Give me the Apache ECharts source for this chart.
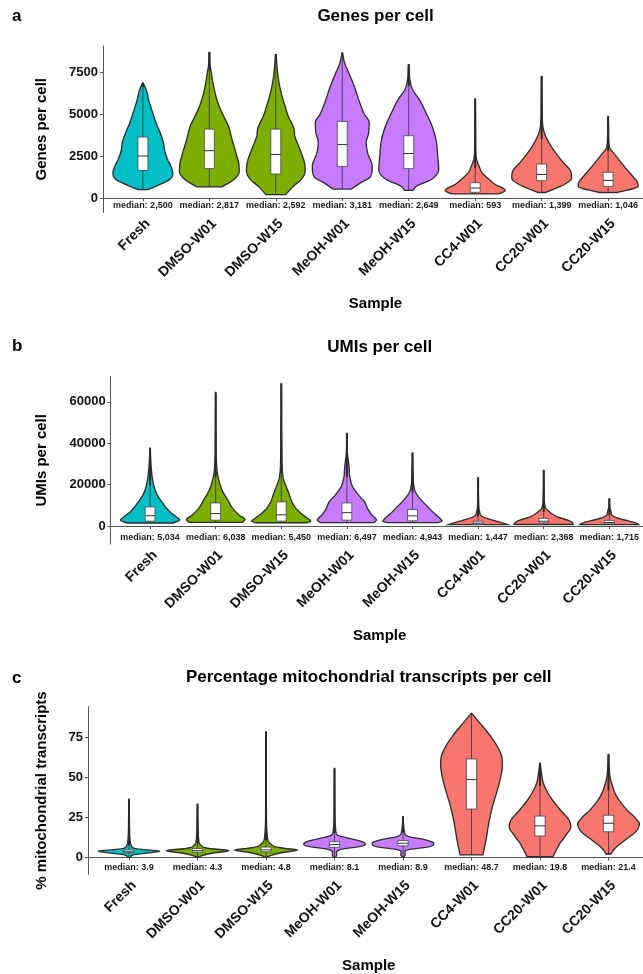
<!DOCTYPE html>
<html><head><meta charset="utf-8">
<script src="https://cdn.jsdelivr.net/npm/echarts@6/dist/echarts.min.js"></script>
<style>html,body{margin:0;padding:0;background:#fff}#c{width:643px;height:974px}</style>
</head><body><div id="c"></div><script>
// ---------------- data ----------------
const samples = ['Fresh','DMSO-W01','DMSO-W15','MeOH-W01','MeOH-W15','CC4-W01','CC20-W01','CC20-W15'];
const sampleGroups = ['Fresh','DMSO','DMSO','MeOH','MeOH','CC','CC','CC'];
const groupColors = {Fresh:'#00BFC4', DMSO:'#7CAE00', MeOH:'#C77CFF', CC:'#F8766D'};

// Panel a: genes per cell
const genesTicks = [0, 2500, 5000, 7500];
const genesMedian = [2500, 2817, 2592, 3181, 2649, 593, 1399, 1046];
const genesQ1 = [1640, 1750, 1430, 1880, 1750, 340, 1030, 690];
const genesQ3 = [3630, 4100, 4100, 4560, 3710, 910, 2020, 1530];
// violin outlines: [value, relative half width]
const genesViolin = [
  [[500,0.17],[790,0.55],[1090,0.89],[1490,1.0],[1880,0.94],[2280,0.83],[2880,0.72],[3270,0.69],[3870,0.58],[4460,0.44],[5060,0.33],[5850,0.19],[6450,0.11],[6850,0.01]],
  [[660,0.42],[1090,0.81],[1590,1.0],[2080,0.98],[2680,0.89],[3470,0.76],[4270,0.64],[4860,0.48],[5460,0.33],[6050,0.22],[6850,0.12],[7440,0.07],[7840,0.03],[8670,0.01]],
  [[200,0.33],[690,0.58],[1090,0.84],[1590,0.98],[2080,0.96],[2880,0.81],[3670,0.64],[4170,0.6],[4860,0.42],[5460,0.31],[6250,0.18],[7040,0.09],[7840,0.04],[8530,0.01]],
  [[530,0.3],[890,0.6],[1290,0.95],[1880,1.0],[2680,0.85],[3280,0.8],[3870,0.88],[4480,0.9],[5060,0.72],[5850,0.55],[6650,0.4],[7440,0.22],[8030,0.08],[8630,0.01]],
  [[450,0.14],[690,0.25],[1090,0.74],[1690,1.0],[2480,0.97],[3470,0.91],[4270,0.78],[5060,0.58],[5850,0.36],[6450,0.13],[7040,0.04],[7940,0.01]],
  [[250,0.8],[450,1.0],[600,0.91],[790,0.69],[1090,0.47],[1490,0.24],[1880,0.13],[2480,0.03],[3500,0.015],[5900,0.005]],
  [[330,0.13],[490,0.36],[790,0.74],[1190,1.0],[1590,0.97],[2080,0.74],[2680,0.47],[3470,0.19],[4270,0.04],[5500,0.015],[7240,0.005]],
  [[330,0.3],[450,0.6],[690,1.0],[890,0.99],[1290,0.82],[1880,0.54],[2480,0.27],[3080,0.04],[4000,0.015],[4860,0.005]]
];

// Panel b: UMIs per cell
const umiTicks = [0, 20000, 40000, 60000];
const umiMedian = [5034, 6038, 5450, 6497, 4943, 1447, 2368, 1715];
const umiQ1 = [2400, 2880, 2400, 2880, 2550, 900, 1600, 1100];
const umiQ3 = [9270, 11200, 11700, 11200, 8000, 2400, 3700, 2740];
const umiViolin = [
  [[1500,0.77],[2880,1.0],[4460,0.89],[6900,0.67],[10900,0.44],[15700,0.22],[22100,0.09],[30000,0.03],[37600,0.005]],
  [[1800,0.9],[3200,0.99],[5280,0.8],[8500,0.58],[12500,0.41],[17300,0.22],[23700,0.08],[30100,0.03],[45000,0.01],[64500,0.003]],
  [[1600,0.85],[2400,1.0],[3700,0.89],[6100,0.67],[8500,0.5],[11700,0.36],[15700,0.26],[18900,0.17],[23700,0.06],[35000,0.02],[68800,0.003]],
  [[1700,0.9],[2880,1.0],[5300,0.85],[8500,0.7],[11700,0.6],[14900,0.4],[18900,0.2],[23700,0.1],[27500,0.08],[31500,0.05],[35500,0.015],[44800,0.003]],
  [[1700,0.85],[2400,1.0],[3700,0.93],[6100,0.74],[9300,0.52],[12500,0.3],[15700,0.13],[18900,0.05],[25000,0.02],[35400,0.003]],
  [[700,1.0],[1300,0.88],[2880,0.49],[4460,0.16],[6900,0.05],[12000,0.015],[23400,0.003]],
  [[800,1.0],[1780,0.97],[2880,0.8],[4460,0.47],[6900,0.19],[9300,0.05],[15000,0.015],[26900,0.003]],
  [[700,1.0],[1300,0.94],[2400,0.67],[3700,0.33],[5280,0.09],[6900,0.06],[9000,0.02],[13300,0.003]]
];

// Panel c: % mitochondrial transcripts
const mitoTicks = [0, 25, 50, 75];
const mitoMedian = [3.9, 4.3, 4.8, 8.1, 8.9, 48.7, 19.8, 21.4];
const mitoQ1 = [3.1, 3.3, 3.6, 6.4, 7.3, 30.3, 13.4, 16.1];
const mitoQ3 = [4.9, 5.6, 6.5, 9.9, 10.6, 61.6, 25.9, 26.4];
const mitoViolin = [
  [[0.1,0.05],[1.6,0.13],[3.0,0.7],[4.0,1.0],[4.7,0.6],[5.7,0.18],[7.8,0.07],[12,0.03],[25,0.012],[36.4,0.003]],
  [[0.3,0.06],[0.9,0.1],[2.6,0.45],[4.3,1.0],[5.7,0.35],[7.8,0.1],[11,0.04],[20,0.015],[33.4,0.003]],
  [[0.3,0.06],[0.9,0.1],[3.0,0.5],[4.7,1.0],[5.7,0.6],[6.8,0.3],[8.9,0.13],[12,0.05],[30,0.012],[78.6,0.003]],
  [[0.1,0.03],[1.6,0.07],[3.0,0.06],[3.6,0.07],[5.3,0.25],[6.8,0.8],[8.2,1.0],[9.9,0.9],[12,0.47],[14,0.1],[17,0.04],[25,0.015],[55.7,0.003]],
  [[0.5,0.03],[1.6,0.07],[3.0,0.06],[4.7,0.13],[6.8,0.86],[8.9,1.0],[11.4,0.64],[13,0.19],[16,0.05],[25.5,0.004]],
  [[1.6,0.37],[10.9,0.47],[21.4,0.56],[31.8,0.68],[42.2,0.84],[50.5,0.95],[57.8,1.0],[63,0.98],[69.3,0.84],[75.5,0.63],[81.8,0.37],[88,0.1],[90.1,0.01]],
  [[0.5,0.42],[3.6,0.5],[8.9,0.65],[14.1,0.85],[19.3,1.0],[23.4,0.94],[29.7,0.66],[38,0.33],[46.4,0.11],[52.6,0.05],[58.9,0.005]],
  [[2.2,0.08],[5.7,0.21],[10.9,0.54],[16.1,0.88],[21,1.0],[24.5,0.88],[29.7,0.6],[38,0.27],[46.4,0.1],[50.5,0.05],[64.5,0.005]]
];

// ---------------- layout ----------------
const FONT = 'Liberation Sans, Arial, Helvetica, sans-serif';
const panels = [
  {label:'a', title:'Genes per cell', yName:'Genes per cell',
   grid:{left:103, top:46, width:545, height:166.5}, yMin:-863, yMax:9048, yNameGap:54,
   ticks:genesTicks, median:genesMedian, q1:genesQ1, q3:genesQ3, violin:genesViolin,
   fmt:v=>v.toLocaleString('en-US'), labelTop:8, titleTop:7.5},
  {label:'b', title:'UMIs per cell', yName:'UMIs per cell',
   grid:{left:110.7, top:376.7, width:538, height:167.3}, yMin:-8640, yMax:72150, yNameGap:61.5,
   ticks:umiTicks, median:umiMedian, q1:umiQ1, q3:umiQ3, violin:umiViolin,
   fmt:v=>v.toLocaleString('en-US'), labelTop:338, titleTop:338.5},
  {label:'c', title:'Percentage mitochondrial transcripts per cell', yName:'% mitochondrial transcripts',
   grid:{left:87.9, top:706.7, width:561.7, height:167.6}, yMin:-10.5, yMax:94.25, yNameGap:38.7,
   ticks:mitoTicks, median:mitoMedian, q1:mitoQ1, q3:mitoQ3, violin:mitoViolin,
   fmt:v=>v.toFixed(1), labelTop:669.5, titleTop:668.5}
];

function monotone(xs, ys){
  const n = xs.length, d = [], m = new Array(n);
  for (let i=0;i<n-1;i++) d.push((ys[i+1]-ys[i])/(xs[i+1]-xs[i]));
  m[0]=d[0]; m[n-1]=d[n-2];
  for (let i=1;i<n-1;i++) m[i] = (d[i-1]*d[i]<=0) ? 0 : (d[i-1]+d[i])/2;
  for (let i=0;i<n-1;i++){
    if (d[i]===0){m[i]=0;m[i+1]=0;continue;}
    const a=m[i]/d[i], b=m[i+1]/d[i], s=a*a+b*b;
    if (s>9){const t=3/Math.sqrt(s); m[i]=t*a*d[i]; m[i+1]=t*b*d[i];}
  }
  return function(x){
    let i=0; while(i<n-2 && x>xs[i+1]) i++;
    const h=xs[i+1]-xs[i], t=(x-xs[i])/h, t2=t*t, t3=t2*t;
    return (2*t3-3*t2+1)*ys[i]+(t3-2*t2+t)*h*m[i]+(-2*t3+3*t2)*ys[i+1]+(t3-t2)*h*m[i+1];
  };
}

function makeRender(p){
  return function(params, api){
    const i = params.dataIndex, x = api.value(0);
    const prof = p.violin[i];
    const color = groupColors[sampleGroups[i]];
    const cx = api.coord([x, 0])[0];
    const half = api.size([0.45, 0])[0];
    const boxHalf = api.size([0.075, 0])[0];
    const X = prof.map(q=>api.coord([x,q[0]])[1]).reverse();
    const Y = prof.map(q=>q[1]).reverse();
    const f = monotone(X, Y);
    const top = X[0], bot = X[X.length-1];
    const n = Math.max(2, Math.ceil((bot-top)/0.5));
    const right=[], left=[];
    for (let k=0;k<=n;k++){
      const py = top + (bot-top)*k/n;
      const w = Math.max(0, f(py))*half;
      right.push([cx+w, py]); left.push([cx-w, py]);
    }
    const pts = right.concat(left.reverse());
    const vMin = prof[0][0], vMax = prof[prof.length-1][0];
    const q1 = p.q1[i], q3 = p.q3[i], med = p.median[i];
    const hiW = Math.min(vMax, q3 + 1.5*(q3-q1));
    const yMinPx = api.coord([x, vMin])[1], yMaxPx = api.coord([x, vMax])[1];
    const yQ1 = api.coord([x, q1])[1], yQ3 = api.coord([x, q3])[1], yMed = api.coord([x, med])[1];
    const yHi = api.coord([x, hiW])[1];
    const cs = params.coordSys;
    const bottom = cs.y + cs.height;
    return {type:'group', children:[
      {type:'polygon', shape:{points:pts}, style:{fill:color, stroke:'#2e2e2e', lineWidth:1.35}},
      {type:'line', shape:{x1:cx,y1:yMinPx,x2:cx,y2:yQ1}, style:{stroke:'#333', lineWidth:0.8}},
      {type:'line', shape:{x1:cx,y1:yQ3,x2:cx,y2:yHi}, style:{stroke:'#333', lineWidth:0.8}},
      {type:'line', shape:{x1:cx,y1:yHi,x2:cx,y2:yMaxPx}, style:{stroke:'#2a2a2a', lineWidth:2}},
      {type:'rect', shape:{x:cx-boxHalf, y:yQ3, width:2*boxHalf, height:yQ1-yQ3}, style:{fill:'#fff', stroke:'#444', lineWidth:0.8}},
      {type:'line', shape:{x1:cx-boxHalf,y1:yMed,x2:cx+boxHalf,y2:yMed}, style:{stroke:'#333', lineWidth:1}},
      {type:'text', style:{text:'median: '+p.fmt(med), x:cx, y:bottom-6.5, align:'center', verticalAlign:'middle',
        fontSize:9, fontWeight:'bold', fontFamily:FONT, fill:'#1a1a1a'}}
    ]};
  };
}

const option = {
  animation:false,
  backgroundColor:'#fff',
  title: [],
  grid: [], xAxis: [], yAxis: [], series: []
};
const cats = samples.map((s,i)=>i+1);
panels.forEach((p, k)=>{
  option.title.push({text:p.label, left:12, top:p.labelTop, padding:0,
    textStyle:{fontSize:17, fontWeight:'bold', color:'#000', fontFamily:FONT}});
  option.title.push({text:p.title, left:p.grid.left + p.grid.width/2, textAlign:'center', top:p.titleTop, padding:0,
    textStyle:{fontSize:17, fontWeight:'bold', color:'#000', fontFamily:FONT}});
  option.grid.push(Object.assign({containLabel:false, outerBoundsMode:'none'}, p.grid));
  option.xAxis.push({type:'value', gridIndex:k, min:0.4, max:8.6,
    name:'Sample', nameLocation:'middle', nameGap:84,
    nameTextStyle:{fontSize:15, fontWeight:'bold', color:'#000', fontFamily:FONT},
    axisLine:{show:true, lineStyle:{color:'#555', width:1}},
    axisTick:{show:true, length:3, customValues:cats, lineStyle:{color:'#555'}},
    axisLabel:{show:true, customValues:cats, formatter:v=>samples[Math.round(v)-1]||'',
      rotate:45, align:'right', verticalAlign:'top', margin:4,
      fontSize:14, fontWeight:'bold', color:'#111', fontFamily:FONT},
    splitLine:{show:false}});
  option.yAxis.push({type:'value', gridIndex:k, min:p.yMin, max:p.yMax,
    name:p.yName, nameLocation:'middle', nameGap:p.yNameGap, nameRotate:90,
    nameTextStyle:{fontSize:15, fontWeight:'bold', color:'#000', fontFamily:FONT},
    axisLine:{show:true, lineStyle:{color:'#555', width:1}},
    axisTick:{show:true, length:3, customValues:p.ticks, lineStyle:{color:'#555'}},
    axisLabel:{show:true, customValues:p.ticks, formatter:v=>String(v), margin:5,
      fontSize:13, fontWeight:'bold', color:'#111', fontFamily:FONT},
    splitLine:{show:false}});
  option.series.push({type:'custom', xAxisIndex:k, yAxisIndex:k, clip:false,
    data:cats.map(c=>[c]), encode:{x:0}, renderItem:makeRender(p)});
});
const chart = echarts.init(document.getElementById('c'), null, {renderer:'canvas'});
chart.setOption(option);
</script></body></html>
